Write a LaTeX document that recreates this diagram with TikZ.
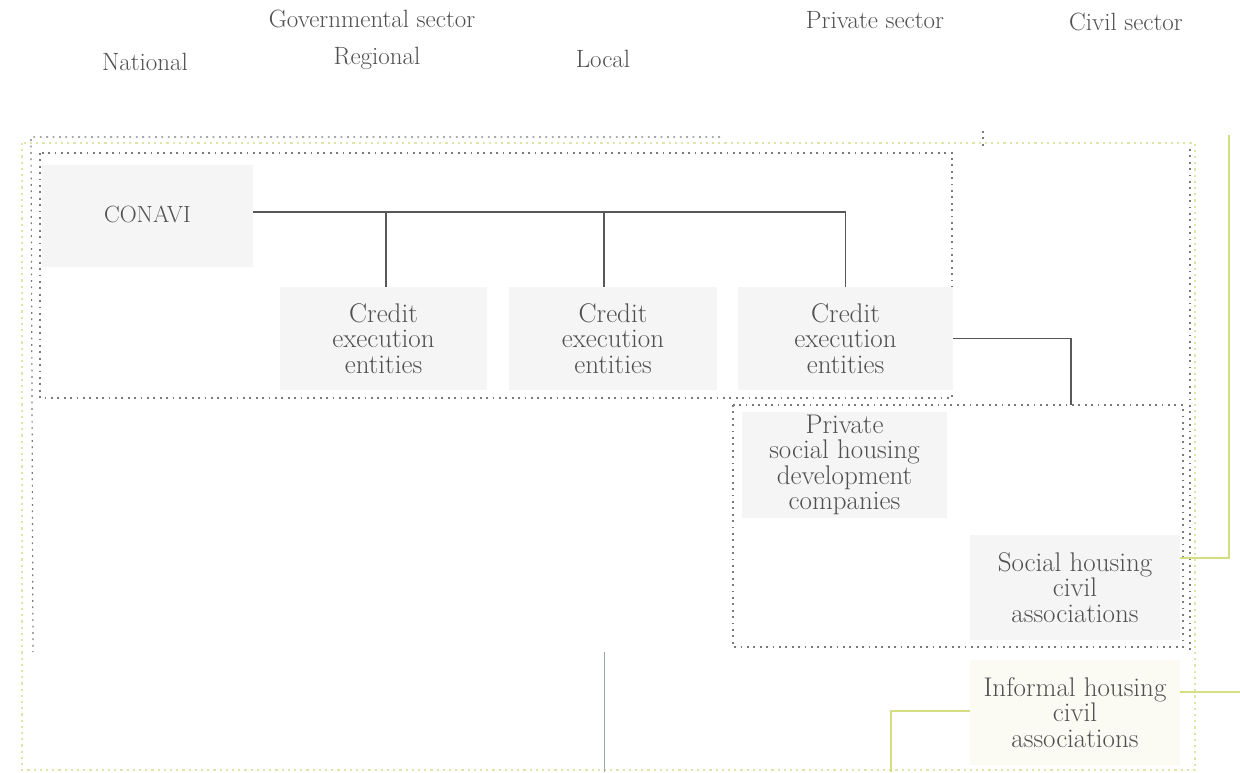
\documentclass[tikz,border=0pt]{standalone}
\usepackage{xcolor}
\definecolor{txt}{HTML}{505050}
\definecolor{boxfill}{HTML}{F5F5F5}
\definecolor{infofill}{HTML}{FBFBF3}
\definecolor{conn}{HTML}{585858}
\definecolor{yel}{HTML}{D6DE84}
\definecolor{yeldot}{HTML}{E0E5A6}
\definecolor{grdot}{HTML}{7A7A7A}
\definecolor{thin}{HTML}{9AA4A8}
\begin{document}
\begin{tikzpicture}[x=1pt,y=-1pt,
  hdr/.style={text=txt,font=\fontsize{25}{26}\selectfont,inner sep=0pt},
  entity/.style={fill=boxfill,draw=none,text=txt,align=center,inner sep=0pt,
    font=\fontsize{27}{25.5}\selectfont},
  conline/.style={draw=conn,line width=1.8pt},
  yline/.style={draw=yel,line width=1.8pt},
  gdot/.style={draw=grdot,line width=1.2pt,dash pattern=on 1.8pt off 4.6pt},
  ydot/.style={draw=yeldot,line width=1.5pt,dash pattern=on 2.2pt off 4pt},
  thinline/.style={draw=thin,line width=0.9pt}]
\useasboundingbox (0,0) rectangle (1240,772);
\fill[white] (0,0) rectangle (1240,772);

% headers
\node[hdr] (hgov) at (372,19) {Governmental sector};
\node[hdr] (hpriv) at (875,20) {Private sector};
\node[hdr] (hciv) at (1126,22) {Civil sector};
\node[hdr] (hnat) at (145,62) {National};
\node[hdr] (hreg) at (377,58) {Regional};
\node[hdr] (hloc) at (603,59) {Local};

% dotted frames
\draw[ydot] (22,143) rectangle (1195,770);
\draw[gdot] (720,137) -- (31,137) -- (33,652);
\draw[gdot] (1190,149) -- (1190,652);
\draw[gdot] (983,131) -- (983,146);
\draw[gdot] (40,153) rectangle (952,398);
\draw[gdot] (733,405) rectangle (1183,647);

% entities
\node[entity,minimum width=211pt,minimum height=102pt] (conavi) at (147.5,216)
  {\fontsize{23.5}{25}\selectfont\raisebox{3pt}{CONAVI}};
\node[entity,minimum width=207pt,minimum height=103pt] (cr1) at (383.5,338.5)
  {Credit\\execution\\entities};
\node[entity,minimum width=208pt,minimum height=103pt] (cr2) at (613,338.5)
  {Credit\\execution\\entities};
\node[entity,minimum width=215pt,minimum height=103pt] (cr3) at (845.5,338.5)
  {Credit\\execution\\entities};
\node[entity,minimum width=205pt,minimum height=106pt] (priv) at (844.5,465)
  {Private\\social housing\\development\\companies};
\node[entity,minimum width=210pt,minimum height=105pt] (soc) at (1075,587.5)
  {Social housing\\civil\\associations};
\node[entity,fill=infofill,minimum width=210pt,minimum height=105pt] (inf) at (1075,712.5)
  {Informal housing\\civil\\associations};

% coordinates for free ends
\coordinate (bus) at (0,212);
\coordinate (privtop) at (1071,405);
\coordinate (civtop) at (1229,135);
\coordinate (redge) at (1240,692);
\coordinate (bottomA) at (891,772);
\coordinate (thinA) at (604,652);
\coordinate (thinB) at (604,772);

% connectors
\draw[conline] (conavi.east |- bus) -- (cr3.north |- bus) -- (cr3.north);
\draw[conline] ([xshift=2.5pt]cr1.north) -- ([xshift=2.5pt]cr1.north |- bus);
\draw[conline] ([xshift=-9pt]cr2.north) -- ([xshift=-9pt]cr2.north |- bus);
\draw[conline] (cr3.east) -| (privtop);
\draw[yline] ([yshift=29.5pt]soc.east) -| (civtop);
\draw[yline] ([yshift=20.5pt]inf.east) -- (redge);
\draw[yline] ([yshift=1.5pt]inf.west) -| (bottomA);
\draw[thinline] (thinA) -- (thinB);
\end{tikzpicture}
\end{document}
